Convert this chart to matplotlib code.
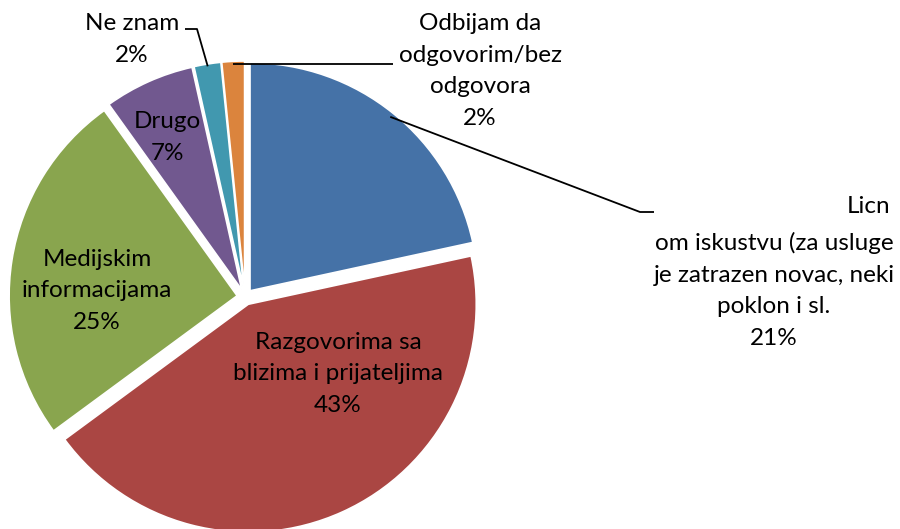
import numpy as np
import matplotlib.pyplot as plt

plt.rcParams['font.family'] = ['Lato', 'DejaVu Sans']

# data, clockwise from 12 o'clock (shares, labels show rounded %)
labels = ["Licnom iskustvu (za usluge je zatrazen novac, neki poklon i sl.",
          "Razgovorima sa blizima i prijateljima",
          "Medijskim informacijama",
          "Drugo",
          "Ne znam",
          "Odbijam da odgovorim/bez odgovora"]
shares = [21.6, 43.3, 25.2, 6.4, 1.9, 1.6]
pct_labels = ["21%", "43%", "25%", "7%", "2%", "2%"]
colors = ["#4572A7", "#AA4643", "#89A54E", "#71588F", "#4198AF", "#DB843D"]

fig = plt.figure(figsize=(9, 5.29), dpi=100)

# pie: radius 1 -> 228 px, centre at (245, 297) px from top-left
R = 228.0
cx, cy = 245.0, 297.0
lim = 1.1
half = R * lim
ax = fig.add_axes([(cx - half) / 900, (529 - cy - half) / 529, 2 * half / 900, 2 * half / 529])

expl = 0.035
wedges, _ = ax.pie(shares, colors=colors, startangle=90, counterclock=False,
                   explode=[expl] * len(shares), radius=1,
                   wedgeprops=dict(edgecolor='white', linewidth=1.2))
ax.set_xlim(-lim, lim)
ax.set_ylim(-lim, lim)
ax.axis('off')


def px(x, y):
    # image pixel -> data coords
    return (x - cx) / R, (cy - y) / R


def edge(w, r=1.0):
    ang = np.deg2rad((w.theta1 + w.theta2) / 2)
    ox, oy = w.center
    return ox + r * np.cos(ang), oy + r * np.sin(ang)


fs = 17.5
ls = 1.62
# va='baseline' puts the last line's baseline at y
kw = dict(fontsize=fs, linespacing=ls, ha='center', va='baseline', multialignment='center',
          color='black', clip_on=False)

# inside labels
ax.text(*px(167, 160), "Drugo\n" + pct_labels[3], **kw)
ax.text(*px(97, 329), "Medijskim\ninformacijama\n" + pct_labels[2], **kw)
ax.text(*px(338, 412), "Razgovorima sa\nblizima i prijateljima\n" + pct_labels[1], **kw)

# outside labels
ax.text(*px(132, 62), "Ne znam\n" + pct_labels[4], **kw)
ax.text(*px(480, 125), "Odbijam da\nodgovorim/bez\nodgovora\n" + pct_labels[5], **kw)
ax.text(*px(890, 213), "Licn", fontsize=fs, ha='right', va='baseline', clip_on=False)
ax.text(*px(774, 345), "om iskustvu (za usluge\nje zatrazen novac, neki\npoklon i sl.\n" + pct_labels[0], **kw)

# leader lines
lk = dict(color='black', lw=1.3, clip_on=False, solid_capstyle='butt')
a = edge(wedges[4], 0.99)
p1, p2 = px(185, 29), px(197, 29)
ax.plot([p1[0], p2[0], a[0]], [p1[1], p2[1], a[1]], **lk)

a = edge(wedges[5], 0.99)
p1 = px(393, 0)
ax.plot([a[0], p1[0]], [a[1], a[1]], **lk)

a = edge(wedges[0], 0.98)
p1, p2 = px(640, 212), px(654, 212)
ax.plot([a[0], p1[0], p2[0]], [a[1], p1[1], p2[1]], **lk)

fig.savefig("out.png", dpi=100)
